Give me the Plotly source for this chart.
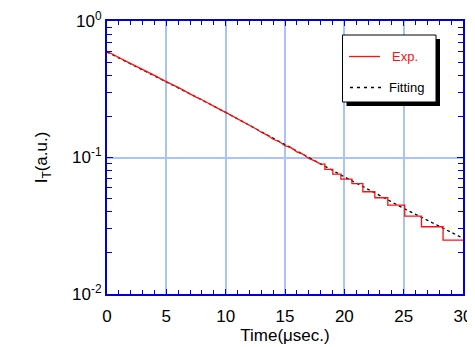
import plotly.graph_objects as go

exp_t = [0, 0.5, 1, 1.5, 2, 2.5, 3, 3.5, 4, 4.5, 5, 5.5, 6, 6.5, 7, 7.5, 8, 8.5, 9, 9.5,
         10, 10.5, 11, 11.5, 12, 12.5, 13, 13.5, 14, 14.5, 15, 15.5, 16, 16.5, 17, 17.5, 18,
         18.36, 18.36, 19.03, 19.03, 19.71, 19.71, 20.64, 20.64, 21.56, 21.56, 22.57, 22.57,
         23.66, 23.66, 25.09, 25.09, 26.50, 26.50, 28.32, 28.32, 30]
exp_v = [0.600, 0.566, 0.540, 0.512, 0.488, 0.462, 0.441, 0.418, 0.400, 0.378, 0.362, 0.342,
         0.326, 0.308, 0.294, 0.277, 0.265, 0.250, 0.239, 0.225, 0.214, 0.203, 0.191, 0.182,
         0.171, 0.163, 0.153, 0.146, 0.136, 0.131, 0.122, 0.118, 0.110, 0.106, 0.0985, 0.0945,
         0.0894, 0.0894, 0.0818, 0.0818, 0.0755, 0.0755, 0.0695, 0.0695, 0.0644, 0.0644, 0.0561,
         0.0561, 0.0507, 0.0507, 0.0448, 0.0448, 0.0372, 0.0372, 0.0311, 0.0311, 0.0248, 0.0248]

# Fitting curve
fit_t = [0, 2.5, 5, 7.5, 10, 12.5, 15, 17.5, 20, 22.5, 25, 27.5, 30]
fit_v = [0.593, 0.462, 0.361, 0.278, 0.214, 0.163, 0.123, 0.094, 0.0722, 0.0555, 0.0424, 0.0330, 0.0256]

x_ticks = [0, 5, 10, 15, 20, 25, 30]
y_tickvals = [0.01, 0.1, 1]
y_ticktext = ["10<sup>-2</sup>", "10<sup>-1</sup>", "10<sup>0</sup>"]

FRAME = "#0000dd"
GRID = "#a9c3fb"
FONT = "Liberation Sans, Arial, sans-serif"

# page body has an 8px default margin; figure placed accordingly
OFF = 8

fig = go.Figure()
fig.add_trace(go.Scatter(x=fit_t, y=fit_v, mode="lines", line=dict(color="black", width=1.3, dash="dot"),
                         showlegend=False))
fig.add_trace(go.Scatter(x=exp_t, y=exp_v, mode="lines", line=dict(color="#ff1010", width=1.3),
                         showlegend=False))

y_minor = [m * 10 ** e for e in (-2, -1) for m in range(2, 10)]

fig.update_layout(
    width=475 - OFF, height=347 - OFF,
    margin=dict(l=107 - OFF, r=12, t=21 - OFF, b=53),
    paper_bgcolor="white", plot_bgcolor="white",
    font=dict(family=FONT, size=17, color="black"),
    xaxis=dict(range=[0, 30], tickvals=x_ticks, ticks="inside", ticklen=5, tickcolor=FRAME,
               showline=True, linecolor=FRAME, linewidth=2, mirror="allticks", automargin=False,
               showgrid=True, gridcolor=GRID, gridwidth=1.5, zeroline=False, ticklabelstandoff=6,
               minor=dict(ticks="inside", dtick=1, ticklen=4, tickcolor=FRAME, showgrid=False),
               title=dict(text="Time(μsec.)", font=dict(size=17), standoff=4),
               tickfont=dict(size=17)),
    yaxis=dict(type="log", range=[-2, 0], tickvals=y_tickvals, ticktext=y_ticktext,
               ticks="inside", ticklen=6, tickcolor=FRAME, automargin=False,
               showline=True, linecolor=FRAME, linewidth=2, mirror="allticks",
               showgrid=True, gridcolor=GRID, gridwidth=1.5, zeroline=False,
               minor=dict(ticks="inside", tickvals=y_minor, ticklen=5, tickcolor=FRAME, showgrid=False),
               title=dict(text="I<sub>T</sub>(a.u.)", font=dict(size=17), standoff=20),
               tickfont=dict(size=17)),
)

# Legend drawn manually (box with shadow); positions given in page pixels
def px(xp):
    return (xp - 107) / (463 - 107)

def py(yp):
    return 1 - (yp - 21) / (294 - 21)

shapes = [
    dict(type="rect", xref="paper", yref="paper", x0=px(346.5), x1=px(440), y0=py(106), y1=py(39),
         fillcolor="black", line=dict(width=0), layer="above"),
    dict(type="rect", xref="paper", yref="paper", x0=px(342.5), x1=px(436), y0=py(102), y1=py(35),
         fillcolor="white", line=dict(color="black", width=1), layer="above"),
    dict(type="line", xref="paper", yref="paper", x0=px(349), x1=px(380), y0=py(56.5), y1=py(56.5),
         line=dict(color="#ff1010", width=1.3), layer="above"),
    dict(type="line", xref="paper", yref="paper", x0=px(350), x1=px(381), y0=py(87.5), y1=py(87.5),
         line=dict(color="black", width=1.3, dash="3px,4px"), layer="above"),
]
annotations = [
    dict(xref="paper", yref="paper", x=px(390), y=py(56), text="Exp.", showarrow=False,
         xanchor="left", yanchor="middle", font=dict(color="#ff1010", size=13, family=FONT)),
    dict(xref="paper", yref="paper", x=px(387), y=py(87), text="Fitting", showarrow=False,
         xanchor="left", yanchor="middle", font=dict(color="black", size=13, family=FONT)),
]
fig.update_layout(shapes=shapes, annotations=annotations)

fig.write_html("out.html")
